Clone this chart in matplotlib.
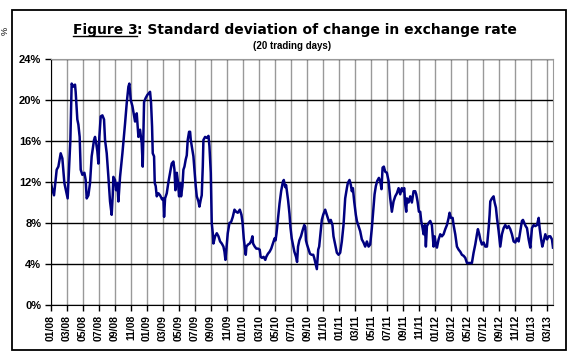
import matplotlib
matplotlib.use("Agg")
import matplotlib.pyplot as plt
from matplotlib.patches import Rectangle
from matplotlib.lines import Line2D

# months elapsed since start of Jan 2008
months = [
    0.0, 0.125, 0.375, 0.71, 0.92, 1.21, 1.42, 1.67, 2.08, 2.25, 2.42, 2.58, 2.79, 3.0, 3.08,
    3.29, 3.42, 3.58, 3.71, 3.92, 4.17, 4.33, 4.46, 4.67, 4.875, 5.08, 5.375, 5.5, 5.625, 5.79,
    5.92, 6.04, 6.21, 6.42, 6.625, 6.75, 6.96, 7.17, 7.375, 7.58, 7.71, 7.79, 8.0, 8.125, 8.29,
    8.42, 8.625, 8.92, 9.25, 9.46, 9.67, 9.79, 9.96, 10.17, 10.33, 10.5, 10.71, 10.92, 11.125,
    11.33, 11.46,
    11.625, 11.83, 12.04, 12.375, 12.5, 12.625, 12.71, 12.875, 12.96, 13.08, 13.21, 13.42, 13.625,
    13.875, 14.04, 14.125, 14.25, 14.46, 14.67, 14.875, 15.08, 15.29, 15.42, 15.54, 15.71, 15.83,
    16.0, 16.125, 16.25, 16.42, 16.54, 16.67, 16.83, 16.96, 17.08, 17.25, 17.375, 17.46, 17.58,
    17.79, 17.92, 18.08, 18.21, 18.42, 18.54, 18.71, 18.83, 18.96, 19.04, 19.25, 19.46, 19.67,
    19.79, 19.96, 20.08, 20.21, 20.29, 20.5, 20.71, 20.92, 21.125, 21.33, 21.54, 21.67, 21.79,
    21.96, 22.08, 22.29, 22.5, 22.71, 22.92, 23.125, 23.33,
    23.59, 23.79, 23.92, 24.0, 24.08, 24.21, 24.33, 24.41, 24.62, 24.83, 25.03, 25.16, 25.24,
    25.45, 25.65, 25.86, 26.07, 26.19, 26.36, 26.56, 26.77, 26.89, 27.1, 27.31, 27.51, 27.72,
    27.93, 28.05, 28.17, 28.34, 28.55, 28.75, 28.96, 29.08, 29.25, 29.37, 29.5, 29.62, 29.79,
    29.91, 30.07, 30.2, 30.4, 30.61, 30.74, 30.86, 31.02, 31.23, 31.44, 31.64, 31.77, 31.85,
    31.98, 32.14, 32.35, 32.55, 32.76, 32.88, 33.09, 33.21, 33.38, 33.5, 33.71, 33.83, 34.0,
    34.25, 34.41, 34.54, 34.74, 34.95, 35.16,
    35.29, 35.5, 35.71, 35.92, 36.125, 36.33, 36.54, 36.75, 36.96, 37.08, 37.29, 37.46, 37.58,
    37.71, 37.875, 38.08, 38.21, 38.42, 38.625, 38.83, 39.04, 39.25, 39.46, 39.67, 39.875, 40.08,
    40.29, 40.42, 40.58, 40.75, 40.96, 41.125, 41.29, 41.42, 41.58, 41.75, 41.96, 42.17,
    42.375, 42.58, 42.79, 43.0, 43.21, 43.42, 43.625, 43.83, 43.96, 44.125, 44.25, 44.375, 44.46,
    44.67, 44.875, 45.08, 45.29, 45.5, 45.625, 45.79, 45.96, 46.125, 46.25, 46.42, 46.54, 46.71,
    46.83, 46.96, 47.17, 47.375, 47.58, 47.79, 47.92, 48.08, 48.21, 48.42, 48.625, 48.83, 49.04,
    49.25, 49.46, 49.67, 49.79, 49.96, 50.17, 50.29, 50.5, 50.71, 50.92, 51.125, 51.33, 51.54,
    51.75, 51.96, 52.17, 52.375, 52.58, 52.79, 53.0, 53.21, 53.33, 53.5, 53.625, 53.83, 54.04,
    54.25, 54.46, 54.67, 54.79, 54.875, 55.08, 55.29, 55.42, 55.58, 55.71, 55.92, 56.125, 56.33,
    56.54, 56.75, 56.96, 57.17, 57.375, 57.58, 57.79, 58.0, 58.21, 58.42, 58.625, 58.83, 58.96,
    59.125, 59.29, 59.46, 59.67, 59.875, 60.08, 60.29, 60.5, 60.71, 60.92, 61.04, 61.21, 61.375,
    61.54, 61.75, 61.96, 62.17, 62.375, 62.58, 62.71,
]

# standard deviation of change, in %
sd_pct = [
    11.9, 11.4, 10.7, 13.2, 13.5, 14.8, 14.3, 11.9, 10.4, 13.2, 16.1, 21.6, 21.3, 21.5, 20.8,
    18.1, 17.6, 16.4, 13.2, 12.7, 12.9, 12.2, 10.4, 10.7, 11.9, 14.5, 16.1, 16.4, 15.9, 15.0,
    13.8, 16.4, 18.4, 18.5, 18.1, 16.1, 14.8, 12.5, 10.1, 8.8, 10.7, 12.5, 12.2, 11.2, 11.9,
    10.1, 12.5, 14.8, 17.7, 19.7, 21.3, 21.6, 20.0, 19.4, 18.7, 17.9, 18.7, 16.4, 17.1,
    15.8, 13.5,
    19.8, 20.2, 20.5, 20.8, 19.7, 17.4, 14.8, 14.5, 11.9, 11.6, 10.6, 10.9, 10.7,
    10.3, 10.4, 8.6, 10.4, 10.9, 12.0, 12.9, 13.8, 14.0, 13.2, 11.2, 12.9, 12.2,
    10.6, 11.9, 10.6, 11.6, 13.2, 13.5, 14.2, 14.6, 16.1, 16.9, 16.9, 16.1, 15.5,
    14.5, 13.2, 11.6, 10.6, 10.1, 9.6, 10.3, 10.7, 13.5, 16.1, 16.4, 16.3, 16.5,
    15.5, 12.9, 8.0, 7.0, 6.0, 6.7, 7.0, 6.7, 6.2, 6.0, 5.7, 5.2, 4.4,
    6.0, 7.0, 8.0, 8.1, 8.6, 9.3, 9.1, 9.0,
    9.3, 8.8, 8.1, 7.3, 6.5, 5.7, 4.9, 5.7, 5.9, 6.0, 6.3, 6.7, 6.0,
    5.7, 5.5, 5.5, 5.4, 4.7, 4.6, 4.7, 4.4, 4.7, 5.0, 5.2, 5.5, 6.0,
    6.5, 6.3, 7.0, 8.3, 9.9, 11.1, 12.0, 12.2, 11.5, 11.7, 10.9, 10.2, 8.9,
    7.6, 6.5, 6.0, 5.2, 4.7, 4.2, 5.7, 6.3, 6.7, 7.3, 7.8, 7.6, 6.3,
    5.9, 5.5, 5.0, 4.9, 4.9, 4.6, 3.9, 3.5, 5.4, 5.7, 7.3, 8.3, 8.8,
    9.3, 8.9, 8.6, 8.1, 8.3, 7.8,
    6.7, 5.9, 5.1, 4.9, 5.1, 6.2, 7.8, 10.4, 11.4, 11.9, 12.2, 11.7, 11.1,
    11.4, 10.1, 8.8, 8.2, 7.7, 7.2, 6.4, 6.1, 5.7, 6.2, 5.7, 5.9, 7.5,
    9.5, 10.8, 11.6, 12.1, 12.4, 12.1, 11.3, 13.4, 13.5, 13.0, 12.9, 12.1,
    10.4, 9.1, 10.1, 10.6, 10.9, 11.4, 10.8, 11.4, 11.1, 11.4, 9.8, 9.1, 10.4,
    10.0, 10.6, 10.0, 11.1, 11.1, 10.8, 10.1, 9.1, 9.1, 8.2, 7.5, 6.9, 7.8,
    5.7, 7.7, 8.0, 8.2, 7.8, 5.7, 6.7, 5.9, 5.6, 6.4, 6.9, 6.7, 6.9,
    7.4, 7.8, 8.5, 9.0, 8.5, 8.5, 7.8, 6.9, 5.7, 5.4, 5.2, 4.9, 4.8,
    4.6, 4.1, 4.1, 4.1, 4.1, 5.1, 5.9, 6.9, 7.4, 6.9, 6.4, 5.9, 6.1,
    5.7, 5.7, 7.5, 8.8, 10.1, 10.4, 10.6, 10.0, 9.5, 8.5, 7.2, 5.7, 6.9,
    7.5, 7.8, 7.5, 7.7, 7.4, 6.9, 6.2, 6.1, 6.5, 6.2, 7.2, 8.2, 8.3,
    8.0, 7.7, 7.5, 6.4, 5.6, 7.5, 7.8, 7.7, 7.8, 8.5, 7.5, 6.5, 5.7,
    6.2, 6.9, 6.4, 6.7, 6.7, 6.4, 5.6,
]

tick_labels = [
    "01/08", "03/08", "05/08", "07/08", "09/08", "11/08",
    "01/09", "03/09", "05/09", "07/09", "09/09", "11/09",
    "01/10", "03/10", "05/10", "07/10", "09/10", "11/10",
    "01/11", "03/11", "05/11", "07/11", "09/11", "11/11",
    "01/12", "03/12", "05/12", "07/12", "09/12", "11/12",
    "01/13", "03/13",
]
y_ticks = [0, 4, 8, 12, 16, 20, 24]

plt.rcParams["font.family"] = ["Liberation Sans", "DejaVu Sans"]

W, H = 579, 364
fig = plt.figure(figsize=(W / 100, H / 100), dpi=100)
fig.patch.set_facecolor("white")


def fx(px):
    return px / W


def fy(py):
    return 1 - py / H


# chart border
fig.add_artist(Rectangle((fx(12), fy(350)), fx(566) - fx(12), fy(10) - fy(350),
                         transform=fig.transFigure, fill=False, edgecolor="black", lw=1.3))
# stray glyph at far left
fig.text(fx(5), fy(31), "%", rotation=90, fontsize=6.5, ha="center", va="center")

ax = fig.add_axes([fx(51), fy(305), fx(553) - fx(51), fy(59) - fy(305)])
ax.plot(months, sd_pct, color="#000080", lw=1.8)

ax.set_xlim(0, months[-1])
ax.set_ylim(0, 24)
ax.set_yticks(y_ticks)
ax.set_yticklabels([f"{v}%" for v in y_ticks], fontsize=8, fontweight="bold")
ax.set_xticks(range(0, 2 * len(tick_labels), 2))
ax.set_xticklabels(tick_labels, rotation=90, fontsize=7.5, fontweight="bold")
ax.tick_params(axis="both", direction="out", length=4, width=1, color="black", pad=3)

ax.set_axisbelow(True)
ax.grid(axis="y", color="black", lw=1)
ax.grid(axis="x", color="#999999", lw=1)
for s in ["left", "bottom"]:
    ax.spines[s].set_color("black")
for s in ["top", "right"]:
    ax.spines[s].set_color("#999999")

# title with underlined "Figure 3"
r = fig.canvas.get_renderer()
tfont = dict(fontsize=10, fontweight="bold", va="center", family="DejaVu Sans")
t1 = fig.text(0, fy(30), "Figure 3", **tfont)
t2 = fig.text(0, fy(30), ": Standard deviation of change in exchange rate", **tfont)
w1 = t1.get_window_extent(r).width
w2 = t2.get_window_extent(r).width
x0 = 295 - (w1 + w2) / 2
t1.set_x(fx(x0))
t2.set_x(fx(x0 + w1))
fig.add_artist(Line2D([fx(x0), fx(x0 + w1)], [fy(36), fy(36)], color="black", lw=1,
                      transform=fig.transFigure))
fig.text(fx(292), fy(46), "(20 trading days)", fontsize=7, fontweight="bold",
         ha="center", va="center")

fig.savefig("out.png", dpi=100)
